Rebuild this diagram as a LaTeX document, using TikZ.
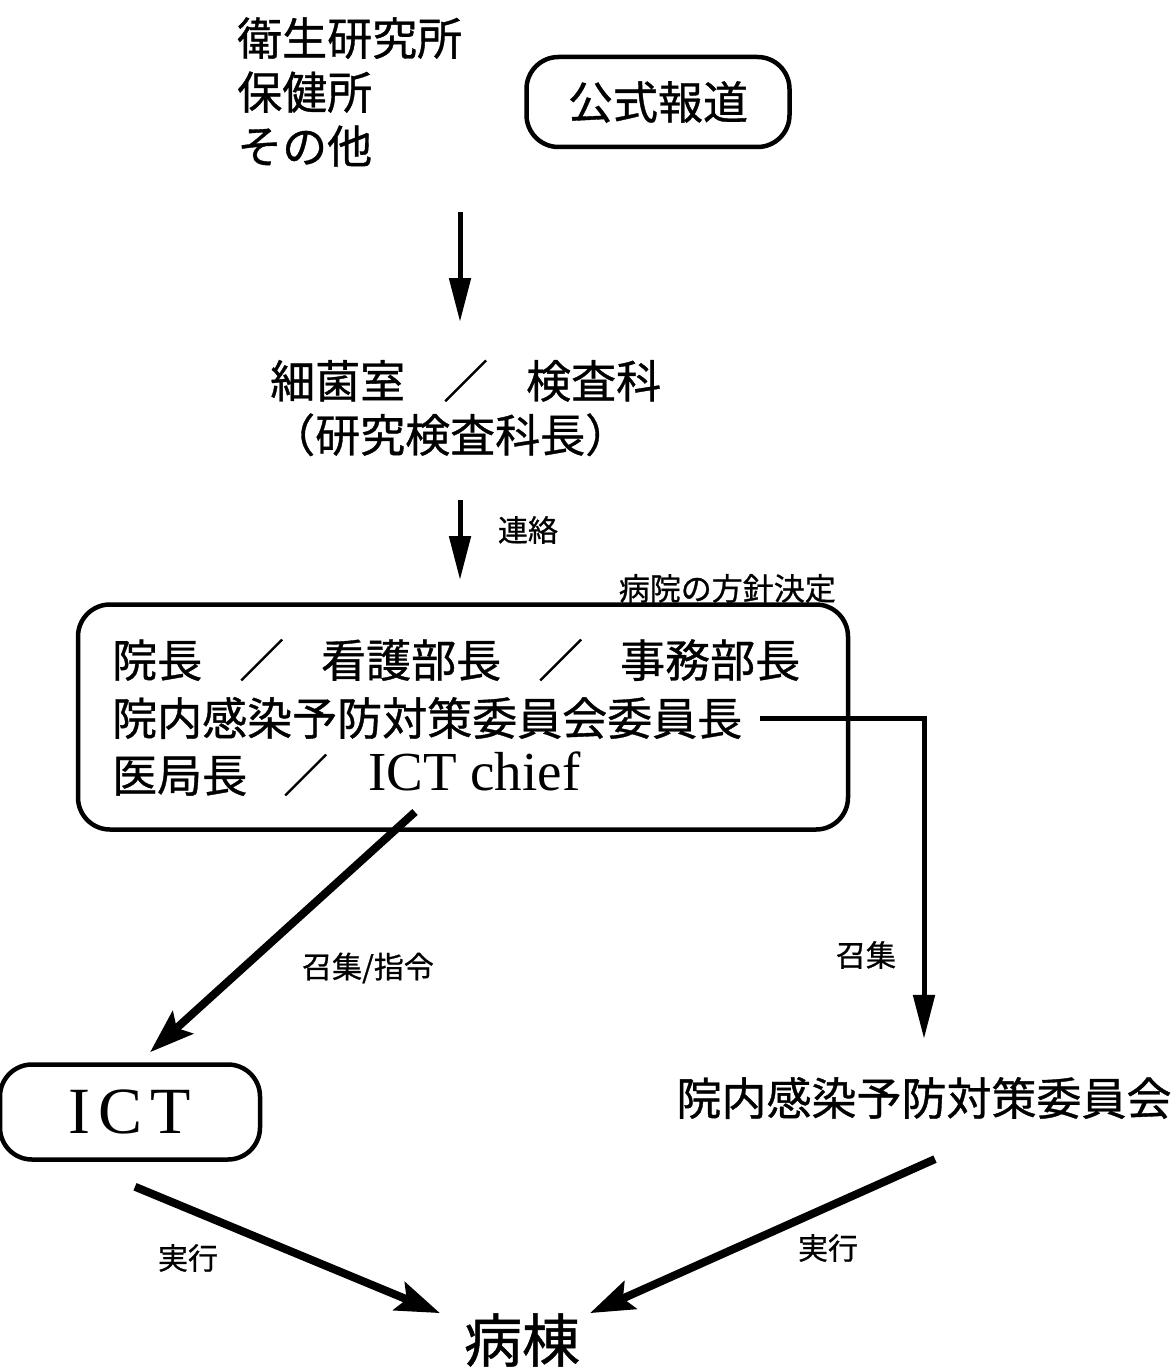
\documentclass[tikz,border=0pt]{standalone}
\usepackage{fontspec}
\setmainfont{Liberation Serif}
\newfontfamily\jp[FakeBold=0.8]{Noto Sans CJK JP}
\usetikzlibrary{arrows.meta}
\begin{document}
\begin{tikzpicture}[x=1pt,y=-1pt,
  jtext/.style={font=\jp\fontsize{45}{54}\selectfont, inner sep=0pt},
  jsmall/.style={font=\jp\fontsize{30}{36}\selectfont, inner sep=0pt},
  rbox/.style={draw, line width=4.5pt, rounded corners=32pt},
  arr/.style={line width=5pt, -{Triangle[length=44pt,width=21pt]}},
  darr/.style={line width=8pt, -{Stealth[length=44pt,width=30pt,inset=8pt]}}]
\useasboundingbox (0,0) rectangle (1174,1372);

% sources
\node[jtext, anchor=west, align=left] (src) at (237,92) {衛生研究所\\保健所\\その他};
\node[rbox, jtext, minimum width=263pt, minimum height=90pt] (koho) at (658,102) {公式報道};

\coordinate (a1s) at (460,212);
\coordinate (a1e) at (460,322);
\draw[arr] (a1s) -- (a1e);

% lab
\node[jtext, anchor=west, align=left] (lab) at (270,408) {細菌室\hspace{38pt}／\hspace{38pt}検査科\\（研究検査科長）};

\coordinate (a2s) at (460,500);
\coordinate (a2e) at (460,580);
\draw[arr] (a2s) -- (a2e);
\node[jsmall] (renraku) at (528,530) {連絡};

% policy box
\node[rbox, minimum width=770pt, minimum height=225pt] (policy) at (463,717) {};
\node[anchor=south east, inner sep=0pt, font=\jp\fontsize{31}{36}\selectfont] (hoshin) at (836,603) {病院の方針決定};
\node[jtext, anchor=west] (r1) at (112,660) {院長\hspace{37pt}／\hspace{37pt}看護部長\hspace{37pt}／\hspace{37pt}事務部長};
\node[jtext, anchor=west] (r2) at (112,718) {院内感染予防対策委員会委員長};
\node[jtext, anchor=west] (r3) at (112,775) {医局長\hspace{36pt}／};
\node[font=\fontsize{55}{60}\selectfont, inner sep=0pt, anchor=base west] (ictchief) at (368,790) {ICT chief};

% ICT box
\node[rbox, minimum width=260pt, minimum height=95pt, font=\fontsize{66}{70}\selectfont] (ict) at (130,1112) {I\kern8pt C\kern8pt T};

% committee
\node[jtext] (comm) at (924,1098) {院内感染予防対策委員会};

% ward
\node[font=\jp\fontsize{58}{64}\selectfont, inner sep=0pt] (ward) at (522,1340) {病棟};

% labels
\node[jsmall] (shoshu1) at (368,968) {召集/指令};
\node[jsmall] (shoshu2) at (866,955) {召集};
\node[jsmall] (jikko1) at (188,1258) {実行};
\node[jsmall] (jikko2) at (828,1248) {実行};

% connectors
\coordinate (c1) at (415,812);
\draw[darr] (c1) -- ([xshift=20pt,yshift=10pt]ict.north);
\draw[arr] ([xshift=18pt]r2.east) -| ([yshift=38pt]comm.north);
\draw[darr] ([xshift=5pt,yshift=-25pt]ict.south) -- ([xshift=-82pt]ward.north);
\draw[darr] ([xshift=11pt,yshift=-40pt]comm.south) -- ([xshift=68pt]ward.north);
\end{tikzpicture}
\end{document}
